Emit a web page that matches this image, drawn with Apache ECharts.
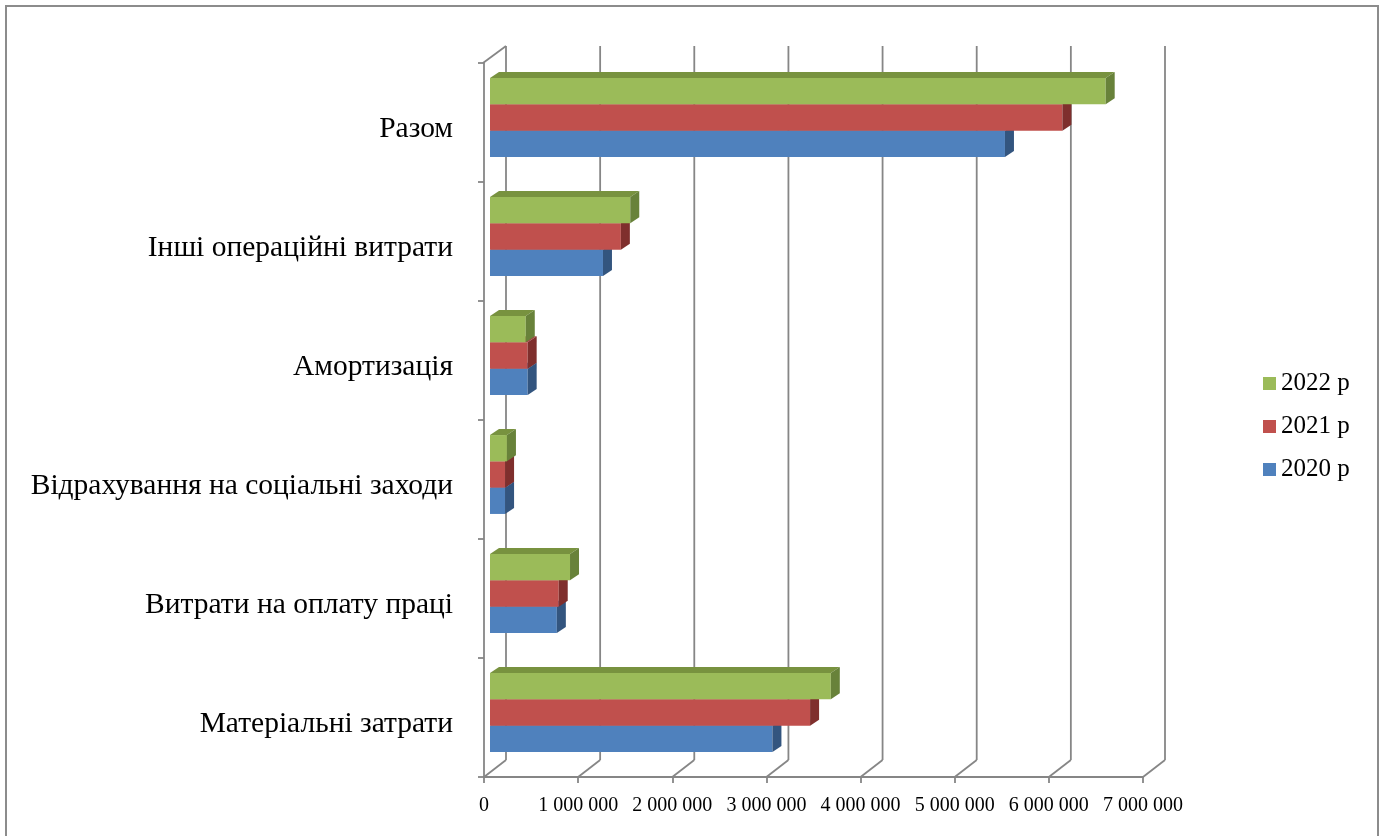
<!DOCTYPE html>
<html>
<head>
<meta charset="utf-8">
<script src="https://cdn.jsdelivr.net/npm/echarts@6/dist/echarts.min.js"></script>
<style>
    html, body { margin: 0; padding: 0; background: #fff; }
    #chart { width: 1383px; height: 836px; }
</style>
</head>
<body>
<div id="chart"></div>
<script>
// categories go bottom -> top on the category axis
var categories = ['Матеріальні затрати', 'Витрати на оплату праці', 'Відрахування на соціальні заходи',
    'Амортизація', 'Інші операційні витрати', 'Разом'];
var years = ['2020 р', '2021 р', '2022 р'];
var values2020 = [3000000, 710000, 160000, 400000, 1200000, 5470000];
var values2021 = [3400000, 730000, 160000, 400000, 1390000, 6080000];
var values2022 = [3620000, 850000, 180000, 380000, 1490000, 6540000];
var xTicks = [0, 1000000, 2000000, 3000000, 4000000, 5000000, 6000000, 7000000];

var FONT = "'Liberation Serif', 'Times New Roman', serif";
var GRID_COLOR = '#868686';

function fmt(v) {
    return String(v).replace(/\B(?=(\d{3})+(?!\d))/g, ' ');
}

function pairs(values) {
    return values.map(function (v, i) { return [v, i]; });
}

// slot 0 = top bar in the band
function barRender(slot, front, top, side) {
    return function (params, api) {
        var cat = api.value(1);
        var start = api.coord([0, cat]);
        var end = api.coord([api.value(0), cat]);
        var band = api.size([0, 1])[1];
        var h = band * 0.221;
        var y = start[1] - 5 - 1.5 * h + slot * h;
        var x0 = start[0] + 6, x1 = end[0] + 6;
        var dx = 9, dy = -6;
        return {
            type: 'group',
            children: [
                {type: 'rect', shape: {x: x0, y: y, width: x1 - x0, height: h}, style: {fill: front}},
                {type: 'polygon', shape: {points: [[x0, y], [x0 + dx, y + dy], [x1 + dx, y + dy], [x1, y]]},
                    style: {fill: top}},
                {type: 'polygon', shape: {points: [[x1, y], [x1 + dx, y + dy], [x1 + dx, y + h + dy], [x1, y + h]]},
                    style: {fill: side}}
            ]
        };
    };
}

// back wall grid lines and floor connectors
function frameRender(params, api) {
    var cs = params.coordSys;
    var x = api.coord([api.value(0), 0])[0];
    var bottom = cs.y + cs.height, topY = cs.y;
    var dx = 22, dy = -17;
    var st = {stroke: GRID_COLOR, lineWidth: 1.8};
    var children = [
        {type: 'line', shape: {x1: x, y1: bottom, x2: x + dx, y2: bottom + dy}, style: st},
        {type: 'line', shape: {x1: x + dx, y1: bottom + dy, x2: x + dx, y2: topY + dy}, style: st}
    ];
    if (params.dataIndex === 0) {
        children.push({type: 'line', shape: {x1: x - 1, y1: topY, x2: x + dx, y2: topY + dy}, style: st});
    }
    return {type: 'group', children: children};
}

var myChart = echarts.init(document.getElementById('chart'));

var option = {
    animation: false,
    graphic: [{
        type: 'rect',
        shape: {x: 6, y: 6, width: 1372, height: 860},
        style: {fill: null, stroke: '#8c8c8c', lineWidth: 2}
    }],
    legend: {
        data: ['2022 р', '2021 р', '2020 р'],
        orient: 'vertical',
        left: 1258,
        top: 366,
        icon: 'rect',
        itemWidth: 13,
        itemHeight: 13,
        itemGap: 18,
        textStyle: {fontFamily: FONT, fontSize: 25, color: '#000'}
    },
    grid: {left: 484, top: 63, width: 659, height: 714},
    xAxis: {
        type: 'value',
        min: 0,
        max: 7000000,
        interval: 1000000,
        axisLine: {show: true, lineStyle: {color: GRID_COLOR, width: 1.8}},
        axisTick: {show: true, length: 6, lineStyle: {color: GRID_COLOR, width: 1.8}},
        splitLine: {show: false},
        axisLabel: {
            margin: 19,
            fontFamily: FONT,
            fontSize: 20,
            color: '#000',
            formatter: fmt
        }
    },
    yAxis: {
        type: 'category',
        data: categories,
        axisLine: {show: true, lineStyle: {color: GRID_COLOR, width: 1.8}},
        axisTick: {show: true, length: 6, lineStyle: {color: GRID_COLOR, width: 1.8}},
        axisLabel: {
            margin: 31,
            formatter: function (v) { return '{c|' + v + '}'; },
            rich: {
                c: {
                    fontFamily: FONT,
                    fontSize: 29.5,
                    color: '#000',
                    padding: [13, 0, 0, 0]
                }
            }
        }
    },
    series: [
        {
            name: 'frame',
            type: 'custom',
            silent: true,
            renderItem: frameRender,
            data: xTicks.map(function (v) { return [v, 0]; }),
            encode: {x: 0, y: 1}
        },
        {
            name: years[0],
            type: 'custom',
            itemStyle: {color: '#4F81BD'},
            renderItem: barRender(2, '#4F81BD', '#4574ad', '#33557f'),
            data: pairs(values2020),
            encode: {x: 0, y: 1}
        },
        {
            name: years[1],
            type: 'custom',
            itemStyle: {color: '#C0504D'},
            renderItem: barRender(1, '#C0504D', '#a84542', '#7f2f2d'),
            data: pairs(values2021),
            encode: {x: 0, y: 1}
        },
        {
            name: years[2],
            type: 'custom',
            itemStyle: {color: '#9BBB59'},
            renderItem: barRender(0, '#9BBB59', '#78923f', '#68823a'),
            data: pairs(values2022),
            encode: {x: 0, y: 1}
        }
    ]
};

myChart.setOption(option);
</script>
</body>
</html>
